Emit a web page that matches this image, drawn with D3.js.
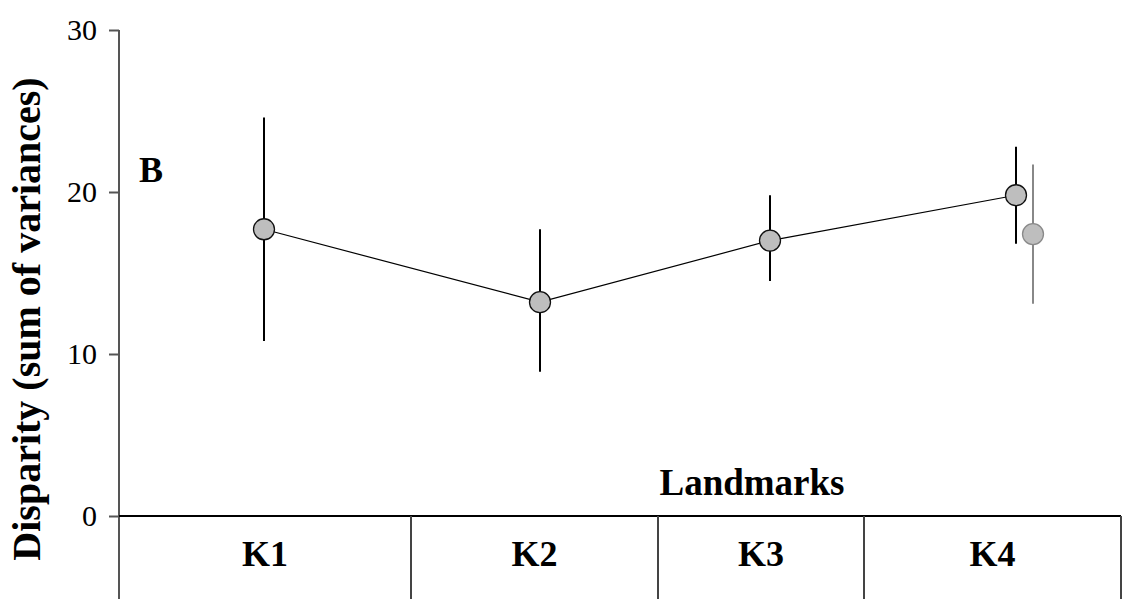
<!DOCTYPE html>
<html>
<head>
<meta charset="utf-8">
<script src="https://cdn.jsdelivr.net/npm/d3@7"></script>
<style>
  html, body { margin: 0; padding: 0; background: #fff; }
  svg { display: block; }
</style>
</head>
<body>
<svg id="chart" width="1147" height="599"></svg>
<script>
// Landmark categories and disparity estimates
const landmarks = ["K1", "K2", "K3", "K4"];
const disparity = [17.7, 13.2, 17.0, 19.8];
const lower = [10.8, 8.9, 14.5, 16.8];
const upper = [24.6, 17.7, 19.8, 22.8];

// Additional K4 estimate (grey)
const altLandmark = ["K4"];
const altDisparity = [17.4];
const altLower = [13.1];
const altUpper = [21.7];

const yTicks = [0, 10, 20, 30];

const svg = d3.select("#chart");
const W = 1147, H = 599;
const axisX = 119;

const y = d3.scaleLinear().domain([0, 30]).range([516, 30]);

// Point positions along the landmark axis and table column edges
const x = d3.scaleOrdinal().domain(landmarks).range([264, 540, 770, 1016]);
const colLeft = d3.scaleOrdinal().domain(landmarks).range([119, 411, 658, 864]);
const colRight = d3.scaleOrdinal().domain(landmarks).range([411, 658, 864, 1121]);
const altOffset = 17;

const serif = "Liberation Serif, Times New Roman, serif";

// Y axis
const yAxis = d3.axisLeft(y).tickValues(yTicks).tickSize(10).tickPadding(12);
const gy = svg.append("g").attr("transform", `translate(${axisX},0)`).call(yAxis);
gy.attr("font-family", serif).attr("font-size", 30);
gy.select(".domain").remove();
gy.selectAll(".tick line").attr("stroke", "#555").attr("stroke-width", 2);
gy.selectAll(".tick text").attr("fill", "#000");
svg.append("line")
  .attr("x1", axisX).attr("x2", axisX)
  .attr("y1", y(30)).attr("y2", H)
  .attr("stroke", "#555").attr("stroke-width", 2);

// Landmark table below the axis
svg.append("line")
  .attr("x1", axisX).attr("x2", colRight("K4"))
  .attr("y1", y(0)).attr("y2", y(0))
  .attr("stroke", "#000").attr("stroke-width", 2);
svg.selectAll("line.col")
  .data(landmarks)
  .join("line")
  .attr("class", "col")
  .attr("x1", d => colRight(d)).attr("x2", d => colRight(d))
  .attr("y1", y(0)).attr("y2", H)
  .attr("stroke", "#444").attr("stroke-width", 2);
svg.selectAll("text.col")
  .data(landmarks)
  .join("text")
  .attr("class", "col")
  .attr("x", d => (colLeft(d) + colRight(d)) / 2)
  .attr("y", 566)
  .attr("text-anchor", "middle")
  .attr("font-family", serif).attr("font-weight", "bold").attr("font-size", 36)
  .text(d => d);

// Connecting line
svg.append("path")
  .datum(landmarks.map((k, i) => [x(k), y(disparity[i])]))
  .attr("d", d3.line())
  .attr("fill", "none").attr("stroke", "#000").attr("stroke-width", 1.2);

// Error bars
svg.selectAll("line.err")
  .data(landmarks)
  .join("line")
  .attr("class", "err")
  .attr("x1", d => x(d)).attr("x2", d => x(d))
  .attr("y1", (d, i) => y(lower[i])).attr("y2", (d, i) => y(upper[i]))
  .attr("stroke", "#000").attr("stroke-width", 2);
svg.selectAll("line.alterr")
  .data(altLandmark)
  .join("line")
  .attr("class", "alterr")
  .attr("x1", d => x(d) + altOffset).attr("x2", d => x(d) + altOffset)
  .attr("y1", (d, i) => y(altLower[i])).attr("y2", (d, i) => y(altUpper[i]))
  .attr("stroke", "#888").attr("stroke-width", 2);

// Points
svg.selectAll("circle.pt")
  .data(landmarks)
  .join("circle")
  .attr("class", "pt")
  .attr("cx", d => x(d)).attr("cy", (d, i) => y(disparity[i]))
  .attr("r", 10.5)
  .attr("fill", "#bebebe").attr("stroke", "#111").attr("stroke-width", 1.3);
svg.selectAll("circle.alt")
  .data(altLandmark)
  .join("circle")
  .attr("class", "alt")
  .attr("cx", d => x(d) + altOffset).attr("cy", (d, i) => y(altDisparity[i]))
  .attr("r", 10.5)
  .attr("fill", "#bebebe").attr("stroke", "#8a8a8a").attr("stroke-width", 1.3);

// Titles
svg.append("text")
  .attr("transform", `translate(40,${(78 + 560) / 2}) rotate(-90)`)
  .attr("text-anchor", "middle")
  .attr("font-family", serif).attr("font-weight", "bold").attr("font-size", 40)
  .text("Disparity (sum of variances)");
svg.append("text")
  .attr("x", 752).attr("y", 495)
  .attr("text-anchor", "middle")
  .attr("font-family", serif).attr("font-weight", "bold").attr("font-size", 37)
  .text("Landmarks");
svg.append("text")
  .attr("x", 139).attr("y", 182)
  .attr("font-family", serif)
  .attr("font-weight", "bold").attr("font-size", 36)
  .text("B");
</script>
</body>
</html>
